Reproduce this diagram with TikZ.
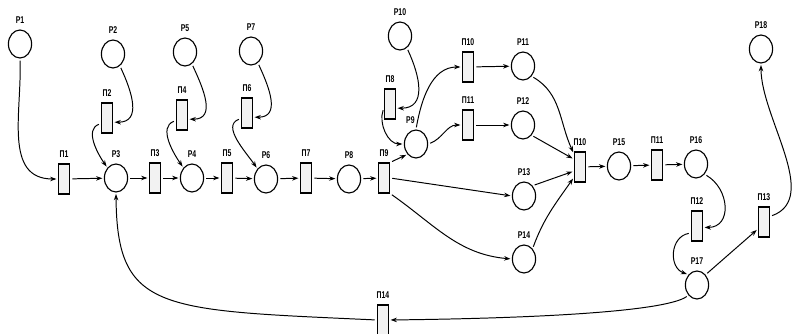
\documentclass[tikz,border=0pt]{standalone}
\usepackage{fontspec}
\setmainfont{Liberation Sans}[FakeStretch=0.7]
\usetikzlibrary{arrows.meta,shapes.geometric}
\tikzset{
    place/.style={ellipse, draw, line width=0.8pt, minimum width=0.58cm, minimum height=0.7cm, inner sep=0pt},
    trans/.style={rectangle, draw, line width=0.8pt, fill=gray!10, minimum width=0.28cm, minimum height=0.75cm, inner sep=0pt},
    lbl/.style={font=\bfseries\fontsize{7}{8}\selectfont, inner sep=1pt, label distance=3pt},
    arc/.style={-{Stealth[length=4.5pt,width=3.2pt]}, line width=0.7pt, shorten <=1.5pt, shorten >=1pt}
}
\begin{document}
\begin{tikzpicture}[x=0.025cm, y=-0.025cm]
    \useasboundingbox (0,0) rectangle (792,334);
    % places
    \node[place, label={[lbl]above:P1}] (p1) at (20,44) {};
    \node[place, label={[lbl]above:P2}] (p2) at (113,54) {};
    \node[place, label={[lbl]above:P3}] (p3) at (116,178) {};
    \node[place, label={[lbl]above:P4}] (p4) at (192,178) {};
    \node[place, label={[lbl]above:P5}] (p5) at (185,52) {};
    \node[place, label={[lbl]above:P6}] (p6) at (266,179) {};
    \node[place, label={[lbl]above:P7}] (p7) at (251,51) {};
    \node[place, label={[lbl]above:P8}] (p8) at (349,179) {};
    \node[place, label={[lbl,xshift=-4pt]above:P9}] (p9) at (416,144) {};
    \node[place, label={[lbl]above:P10}] (p10) at (400,36) {};
    \node[place, label={[lbl]above:P11}] (p11) at (523,66) {};
    \node[place, label={[lbl]above:P12}] (p12) at (523,125) {};
    \node[place, label={[lbl]above:P13}] (p13) at (524,196) {};
    \node[place, label={[lbl]above:P14}] (p14) at (524,259) {};
    \node[place, label={[lbl]above:P15}] (p15) at (619,166) {};
    \node[place, label={[lbl]above:P16}] (p16) at (696,164) {};
    \node[place, label={[lbl]above:P17}] (p17) at (697,285) {};
    \node[place, label={[lbl]above:P18}] (p18) at (761,49) {};
    % transitions
    \node[trans, label={[lbl]above:П1}] (t1) at (64,179) {};
    \node[trans, label={[lbl]above:П2}] (t2) at (107,118) {};
    \node[trans, label={[lbl]above:П3}] (t3) at (155,178) {};
    \node[trans, label={[lbl]above:П4}] (t4) at (182,115) {};
    \node[trans, label={[lbl]above:П5}] (t5) at (227,178) {};
    \node[trans, label={[lbl]above:П6}] (t6) at (247,113) {};
    \node[trans, label={[lbl]above:П7}] (t7) at (306,178) {};
    \node[trans, label={[lbl]above:П8}] (t8) at (390,104) {};
    \node[trans, label={[lbl]above:П9}] (t9) at (384,178) {};
    \node[trans, label={[lbl]above:П10}] (t10) at (468,67) {};
    \node[trans, label={[lbl]above:П11}] (t11) at (468,125) {};
    \node[trans, label={[lbl]above:П10}] (t10b) at (580,167) {};
    \node[trans, label={[lbl]above:П11}] (t11b) at (657,165) {};
    \node[trans, label={[lbl]above:П12}] (t12) at (697,226) {};
    \node[trans, label={[lbl]above:П13}] (t13) at (764,222) {};
    \node[trans, label={[lbl]above:П14}] (t14) at (383,320) {};
    % main line
    \draw[arc] (p1.south) to[out=-88,in=180,looseness=1.1] (t1.west);
    \draw[arc] (t1) -- (p3);
    \draw[arc] (p3) -- (t3);
    \draw[arc] (t3) -- (p4);
    \draw[arc] (p4) -- (t5);
    \draw[arc] (t5) -- (p6);
    \draw[arc] (p6) -- (t7);
    \draw[arc] (t7) -- (p8);
    \draw[arc] (p8) -- (t9);
    % side inputs
    \draw[arc] (p2.-60) to[out=-65,in=0,looseness=1.3] ([yshift=-3pt]t2.east);
    \draw[arc] ([yshift=-4pt]t2.west) to[out=200,in=125] (p3.north west);
    \draw[arc] (p5.-60) to[out=-65,in=0,looseness=1.3] ([yshift=-3pt]t4.east);
    \draw[arc] ([yshift=-4pt]t4.west) to[out=200,in=125] (p4.north west);
    \draw[arc] (p7.-60) to[out=-65,in=0,looseness=1.3] ([yshift=-3pt]t6.east);
    \draw[arc] ([yshift=-4pt]t6.west) to[out=200,in=125] (p6.north west);
    \draw[arc] (p10.-60) to[out=-65,in=0,looseness=1.3] ([yshift=-3pt]t8.east);
    \draw[arc] ([yshift=-3pt]t8.west) to[out=250,in=180] (p9.west);
    % fork at P9 / П9
    \draw[arc] (t9.north east) -- (p9.south west);
    \draw[arc] (p9.north) to[out=80,in=180] (t10.west);
    \draw[arc] (p9.east) to[out=20,in=180] (t11.west);
    \draw[arc] (t10) -- (p11);
    \draw[arc] (t11) -- (p12);
    \draw[arc] (t9.east) -- (p13.west);
    \draw[arc] (t9.south east) to[out=-35,in=175] (p14.west);
    % join at П10
    \draw[arc] (p11.south east) to[out=-30,in=115] ([yshift=-1.5pt]t10b.north west);
    \draw[arc] (p12.south east) -- ([yshift=-5.5pt]t10b.north west);
    \draw[arc] (p13.north east) -- ([yshift=-14pt]t10b.north west);
    \draw[arc] (p14.north east) to[out=70,in=235] ([yshift=-18.5pt]t10b.north west);
    \draw[arc] (t10b) -- (p15);
    \draw[arc] (p15) -- (t11b);
    \draw[arc] (t11b) -- (p16);
    % loop back
    \draw[arc] (p16.south east) to[out=-30,in=0,looseness=1.4] ([yshift=-1pt]t12.east);
    \draw[arc] ([yshift=-5pt]t12.west) to[out=190,in=160,looseness=1.3] (p17.north west);
    \draw[arc] (p17.north east) -- ([yshift=-5pt]t13.west);
    \draw[arc] ([yshift=4pt]t13.east) to[out=20,in=-90,looseness=0.9] (p18.south);
    \draw[arc] (p17.south west) .. controls (668,310) and (560,318) .. (t14.east);
    \draw[arc] (t14.west) .. controls (160,310) and (117,312) .. (p3.south);
\end{tikzpicture}
\end{document}
